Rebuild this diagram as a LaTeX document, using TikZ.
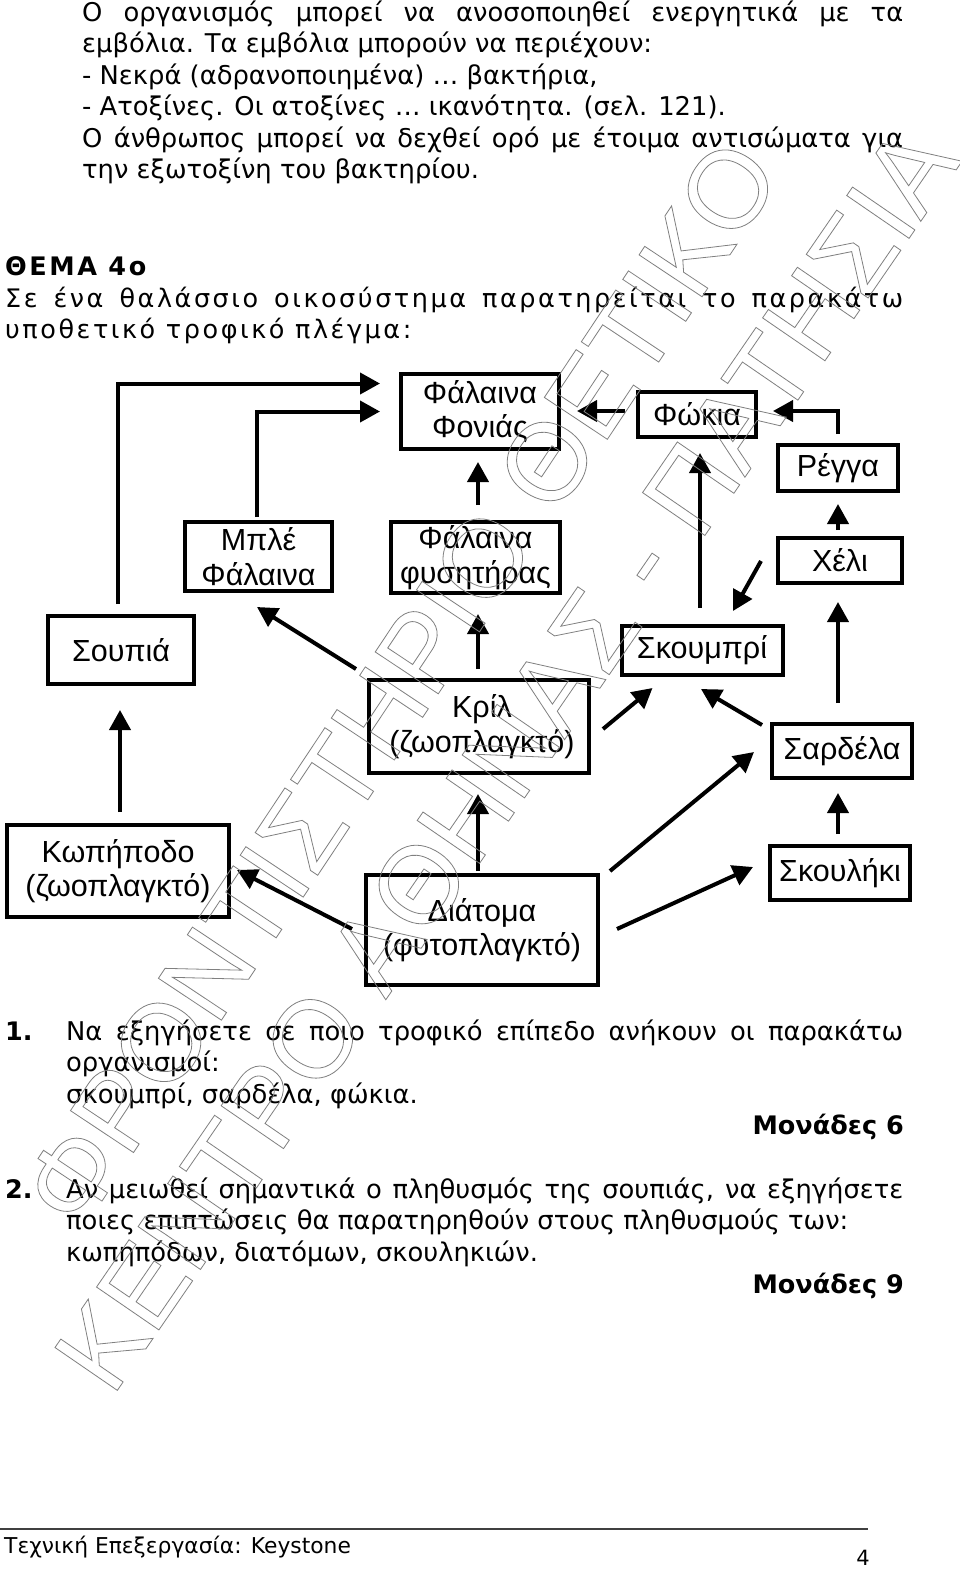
\documentclass[tikz,border=0pt]{standalone}
\usepackage{fontspec}
\setmainfont{DejaVu Sans}
\newfontfamily\labfont{Liberation Sans}
\newfontfamily\spacedfont[LetterSpace=10]{DejaVu Sans}
\newfontfamily\wmfont{Liberation Sans}
\usetikzlibrary{arrows.meta,calc}
\newcommand\outlinetext[1]{\special{pdf:literal direct 1 Tr 0.8 w}#1\special{pdf:literal direct 0 Tr}}
\begin{document}
\begin{tikzpicture}[x=1pt,y=-1pt,
  txt/.style={anchor=base west, inner sep=0pt, font=\fontsize{25.8}{31}\selectfont},
  spc/.style={anchor=base west, inner sep=0pt, font=\spacedfont\fontsize{25.5}{31}\selectfont},
  bld/.style={inner sep=0pt, font=\fontsize{25.5}{31}\selectfont\bfseries},
  box/.style={draw, line width=4pt, inner sep=0pt, align=center,
    font=\labfont\fontsize{30.5}{34.5}\selectfont},
  arr/.style={line width=4pt, -{Triangle[length=20pt,width=21pt]}},
  wm/.style={inner sep=0pt, text=black!50, font=\wmfont\fontsize{110}{110}\selectfont}]
\fill[white] (0,0) rectangle (960,1569);
\useasboundingbox (0,0) rectangle (960,1569);

% top text
\node[txt] (l1) at (82,21) {\makebox[821pt][s]{Ο οργανισμός μπορεί να ανοσοποιηθεί ενεργητικά με τα}};
\node[txt] (l2) at (82,52.5) {εμβόλια. Τα εμβόλια μπορούν να περιέχουν:};
\node[txt] (l3) at (82,84) {- Νεκρά (αδρανοποιημένα) … βακτήρια,};
\node[txt] (l4) at (82,115.5) {- Ατοξίνες. Οι ατοξίνες … ικανότητα. (σελ. 121).};
\node[txt] (l5) at (82,147) {\makebox[821pt][s]{Ο άνθρωπος μπορεί να δεχθεί ορό με έτοιμα αντισώματα για}};
\node[txt] (l6) at (82,178.5) {την εξωτοξίνη του βακτηρίου.};

\node[spc] (h1) at (5,275) {\bfseries ΘΕΜΑ 4ο};
\node[spc] (h2) at (5,307) {\makebox[898pt][s]{Σε ένα θαλάσσιο οικοσύστημα παρατηρείται το παρακάτω}};
\node[spc] (h3) at (5,338) {υποθετικό τροφικό πλέγμα:};

% boxes
\node[box, minimum width=158pt, minimum height=75pt] (ff) at (480,411.5) {Φάλαινα\\Φονιάς};
\node[box, minimum width=118pt, minimum height=45pt] (fokia) at (697,414.5) {Φώκια};
\node[box, minimum width=120pt, minimum height=46pt] (regga) at (838,468) {Ρέγγα};
\node[box, minimum width=124pt, minimum height=45pt] (cheli) at (840,560.5) {Χέλι};
\node[box, minimum width=147pt, minimum height=69pt] (mple) at (258.5,556.5) {Μπλέ\\Φάλαινα};
\node[box, minimum width=169pt, minimum height=71pt] (fys) at (475.5,557.5) {Φάλαινα\\φυσητήρας};
\node[box, minimum width=146pt, minimum height=68pt] (soupia) at (121,650) {Σουπιά};
\node[box, minimum width=161pt, minimum height=49pt] (skoum) at (702,650.5) {Σκουμπρί};
\node[box, minimum width=220pt, minimum height=93pt] (kril) at (479,726.5) {\hspace*{6pt}Κρίλ\\\hspace*{6pt}(ζωοπλαγκτό)};
\node[box, minimum width=140pt, minimum height=54pt] (sard) at (842,751) {Σαρδέλα};
\node[box, minimum width=222pt, minimum height=92pt] (kop) at (118,871) {Κωπήποδο\\(ζωοπλαγκτό)};
\node[box, minimum width=140pt, minimum height=54pt] (skoul) at (840,873) {Σκουλήκι};
\node[box, minimum width=232pt, minimum height=110pt] (diat) at (482,930) {Διάτομα\\(φυτοπλαγκτό)};

% arrows
\draw[arr] ($(soupia.north)+(-3,-10)$) |- ($(ff.west)+(-19,-28)$);
\draw[arr] ($(mple.north)+(-1.5,-3)$) |- ($(ff.west)+(-19,0)$);
\draw[arr] ($(fys.north)+(2.5,-15)$) -- ($(ff.south)+(-2,11)$);
\draw[arr] ($(fokia.west)+(-11,-3.5)$) -- ($(ff.east)+(16,-0.5)$);
\draw[arr] ($(regga.north)+(0,-9)$) |- ($(fokia.east)+(15,-3.5)$);
\draw[arr] ($(cheli.north)+(-2,-6)$) -- ($(regga.south)+(0,11)$);
\draw[arr] ($(skoum.north)+(-2,-16)$) -- ($(fokia.south)+(3,14)$);
\draw[arr] ($(cheli.west)+(-15,0.5)$) -- ($(skoum.north)+(31,-13)$);
\draw[arr] ($(sard.north)+(-4,-19)$) -- ($(cheli.south)+(-2,17)$);
\draw[arr] ($(kril.north west)+(-11,-9)$) -- ($(mple.south)+(-1.5,14)$);
\draw[arr] ($(kril.north)+(-1,-9)$) -- ($(fys.south)+(2.5,19)$);
\draw[arr] ($(kril.east)+(12,2.5)$) -- ($(skoum.south west)+(33,11)$);
\draw[arr] ($(sard.north west)+(-8,3)$) -- ($(skoum.south)+(-1,12)$);
\draw[arr] ($(kop.north)+(2,-11)$) -- ($(soupia.south)+(-1,24)$);
\draw[arr] ($(diat.west)+(-12,-1)$) -- ($(kop.east)+(6,-1)$);
\draw[arr] ($(diat.north)+(-4,-2)$) -- ($(kril.south)+(-1,19)$);
\draw[arr] ($(diat.north east)+(10,-2)$) -- ($(sard.west)+(-16,1)$);
\draw[arr] ($(diat.east)+(17,-1)$) -- ($(skoul.west)+(-15,-6)$);
\draw[arr] ($(skoul.north)+(-2,-10)$) -- ($(sard.south)+(-4,13)$);

% questions
\node[bld, anchor=base west] (q1n) at (5,1040) {1.};
\node[txt] (q1a) at (66,1040) {\makebox[837pt][s]{Να εξηγήσετε σε ποιο τροφικό επίπεδο ανήκουν οι παρακάτω}};
\node[txt] (q1b) at (66,1071.5) {οργανισμοί:};
\node[txt] (q1c) at (66,1103) {σκουμπρί, σαρδέλα, φώκια.};
\node[bld, anchor=base east] (m6) at (904,1134.5) {Μονάδες 6};
\node[bld, anchor=base west] (q2n) at (5,1198) {2.};
\node[txt] (q2a) at (66,1198) {\makebox[837pt][s]{Αν μειωθεί σημαντικά ο πληθυσμός της σουπιάς, να εξηγήσετε}};
\node[txt] (q2b) at (66,1229.5) {ποιες επιπτώσεις θα παρατηρηθούν στους πληθυσμούς των:};
\node[txt] (q2c) at (66,1261) {κωπηπόδων, διατόμων, σκουληκιών.};
\node[bld, anchor=base east] (m9) at (904,1293) {Μονάδες 9};

% footer
\draw[line width=2pt, black!75] (0,1529) -- (868,1529);
\node[anchor=base west, inner sep=0pt, font=\fontsize{21.8}{26}\selectfont] (foot) at (4,1553) {Τεχνική Επεξεργασία: Keystone};
\node[anchor=base, inner sep=0pt, font=\fontsize{21}{26}\selectfont] (pg) at (863,1565) {4};

% watermark
\node[wm, rotate=56.4] (wm1) at (400,683) {\outlinetext{ΦΡΟΝΤΙΣΤΗΡΙΟ ΘΕΤΙΚΟ}};
\node[wm, rotate=55.5] (wm2) at (506,758) {\outlinetext{ΚΕΝΤΡΟ ΑΘΗΝΑΣ - ΠΑΤΗΣΙΑ}};
\end{tikzpicture}
\end{document}
